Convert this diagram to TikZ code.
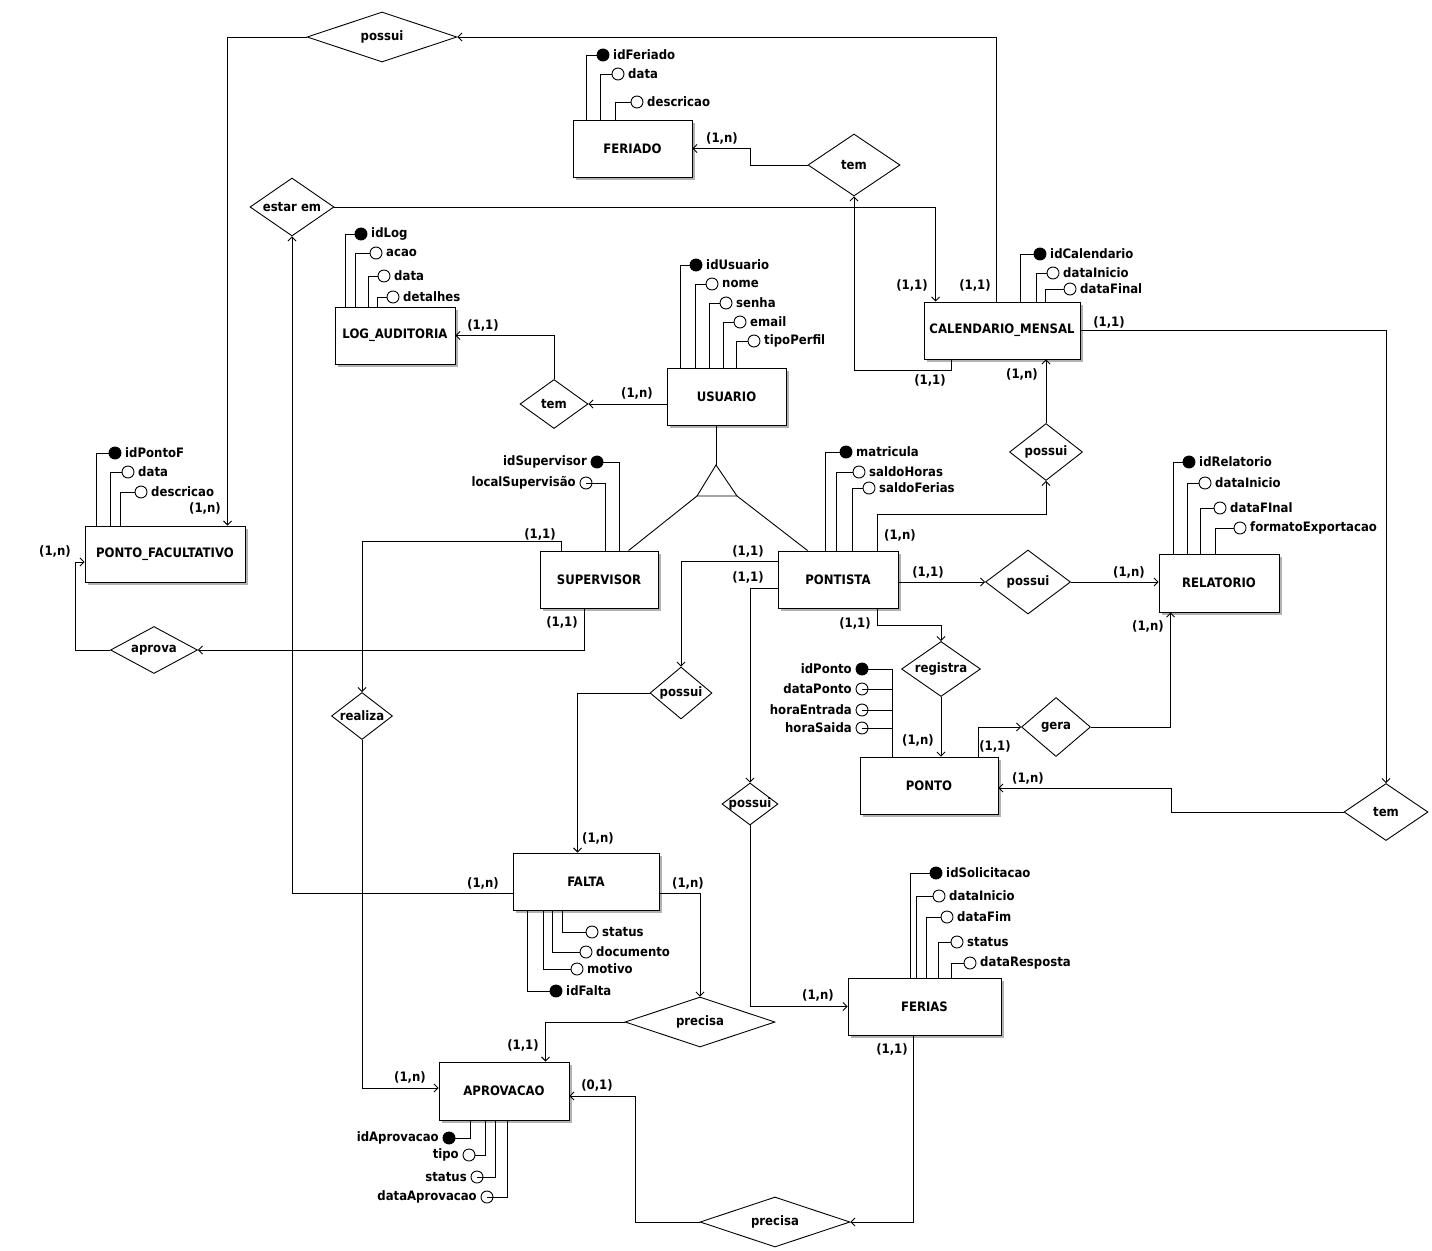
\documentclass[tikz,border=0pt]{standalone}
\usepackage{fontspec}
\setmainfont{DejaVu Sans}[FakeStretch=0.9]
\usetikzlibrary{arrows.meta,shapes.geometric,shadows}

\begin{document}
\begin{tikzpicture}[x=1pt,y=-1pt,line width=0.9pt,
  font=\fontsize{13}{15}\selectfont\bfseries,
  ent/.style={draw,fill=white,inner sep=0,drop shadow={shadow xshift=2.5pt,shadow yshift=-2.5pt,opacity=0.6}},
  rel/.style={draw,fill=white,diamond,inner sep=0},
  atr/.style={draw,circle,minimum size=12,inner sep=0},
  pk/.style={atr,fill=black},
  arr/.style={-{Straight Barb[length=4pt,width=8pt]}},
  card/.style={inner sep=0}]
\fill[white] (0,0) rectangle (1432,1250);
\useasboundingbox (0,0) rectangle (1432,1250);

\node[ent,minimum width=119,minimum height=57] (feriado) at (632.5,148.5) {FERIADO};
\node[ent,minimum width=120,minimum height=57] (logaud) at (395,335.5) {LOG\_AUDITORIA};
\node[ent,minimum width=119,minimum height=57] (usuario) at (726.5,396.5) {USUARIO};
\node[ent,minimum width=156,minimum height=57] (calend) at (1002,330.5) {CALENDARIO\_MENSAL};
\node[ent,minimum width=160,minimum height=56] (pfac) at (165,554) {PONTO\_FACULTATIVO};
\node[ent,minimum width=118,minimum height=57] (superv) at (599,579.5) {SUPERVISOR};
\node[ent,minimum width=120,minimum height=57] (pontista) at (838,579.5) {PONTISTA};
\node[ent,minimum width=120,minimum height=58] (relat) at (1219,583) {RELATORIO};
\node[ent,minimum width=138,minimum height=57] (ponto) at (929,785.5) {PONTO};
\node[ent,minimum width=146,minimum height=57] (falta) at (586,881.5) {FALTA};
\node[ent,minimum width=153,minimum height=57] (ferias) at (924.5,1006.5) {FERIAS};
\node[ent,minimum width=130,minimum height=58] (aprov) at (504,1091) {APROVACAO};

\node[rel,minimum width=150,minimum height=50,aspect=3] (possuiTop) at (382,37) {possui};
\node[rel,minimum width=92,minimum height=62,aspect=1.5] (temFer) at (854,165) {tem};
\node[rel,minimum width=84,minimum height=58,aspect=1.45] (estarEm) at (292,207) {estar em};
\node[rel,minimum width=68,minimum height=49,aspect=1.4] (temLog) at (554,404) {tem};
\node[rel,minimum width=73,minimum height=57,aspect=1.3] (possuiCal) at (1046,452) {possui};
\node[rel,minimum width=85,minimum height=64,aspect=1.3] (possuiRel) at (1028,582) {possui};
\node[rel,minimum width=87,minimum height=47,aspect=1.85] (aprova) at (154,650) {aprova};
\node[rel,minimum width=62,minimum height=52,aspect=1.2] (possuiFal) at (681,693) {possui};
\node[rel,minimum width=61,minimum height=47,aspect=1.3] (realiza) at (362,716) {realiza};
\node[rel,minimum width=79,minimum height=55,aspect=1.44] (registra) at (941,669) {registra};
\node[rel,minimum width=69,minimum height=59,aspect=1.17] (gera) at (1056,727) {gera};
\node[rel,minimum width=56,minimum height=42,aspect=1.33,inner sep=-2pt] (possuiFer) at (750,804) {possui};
\node[rel,minimum width=84,minimum height=57,aspect=1.47] (temPon) at (1386,812) {tem};
\node[rel,minimum width=150,minimum height=50,aspect=3] (precisaFal) at (700,1022) {precisa};
\node[rel,minimum width=150,minimum height=50,aspect=3] (precisaFer) at (775,1222) {precisa};

\coordinate (triTop) at (716,465);
\coordinate (triL) at (697,496);
\coordinate (triR) at (737,496);
\draw (triTop) -- (triL) -- (triR) -- cycle;

\node[pk,label={right:idFeriado}] (kFer) at (603,55) {};
\node[atr,label={right:data}] (aDatFer) at (618,74) {};
\node[atr,label={right:descricao}] (aDesFer) at (637,102) {};
\draw (kFer.west) -| ([xshift=14pt]feriado.north west);
\draw (aDatFer.west) -| ([xshift=28pt]feriado.north west);
\draw (aDesFer.west) -| ([xshift=43pt]feriado.north west);

\node[pk,label={right:idLog}] (kLog) at (361,234) {};
\node[atr,label={right:acao}] (aAcaLog) at (376,253) {};
\node[atr,label={right:data}] (aDatLog) at (384,276) {};
\node[atr,label={right:detalhes}] (aDetLog) at (393,297) {};
\draw (kLog.west) -| ([xshift=11pt]logaud.north west);
\draw (aAcaLog.west) -| ([xshift=21pt]logaud.north west);
\draw (aDatLog.west) -| ([xshift=34pt]logaud.north west);
\draw (aDetLog.west) -| ([xshift=43pt]logaud.north west);

\node[pk,label={right:idUsuario}] (kUsu) at (696,265) {};
\node[atr,label={right:nome}] (aNomUsu) at (712,284) {};
\node[atr,label={right:senha}] (aSenUsu) at (726,303) {};
\node[atr,label={right:email}] (aEmaUsu) at (740,322) {};
\node[atr,label={right:tipoPerfil}] (aTipUsu) at (754,341) {};
\draw (kUsu.west) -| ([xshift=14pt]usuario.north west);
\draw (aNomUsu.west) -| ([xshift=29pt]usuario.north west);
\draw (aSenUsu.west) -| ([xshift=43pt]usuario.north west);
\draw (aEmaUsu.west) -| ([xshift=57pt]usuario.north west);
\draw (aTipUsu.west) -| ([xshift=70pt]usuario.north west);

\node[pk,label={right:idCalendario}] (kCal) at (1040,254) {};
\node[atr,label={right:dataInicio}] (aIniCal) at (1053,273) {};
\node[atr,label={right:dataFinal}] (aFinCal) at (1070,289) {};
\draw (kCal.west) -| ([xshift=97pt]calend.north west);
\draw (aIniCal.west) -| ([xshift=113pt]calend.north west);
\draw (aFinCal.west) -| ([xshift=122pt]calend.north west);

\node[pk,label={right:idPontoF}] (kPfa) at (115,453) {};
\node[atr,label={right:data}] (aDatPfa) at (128,472) {};
\node[atr,label={right:descricao}] (aDesPfa) at (141,492) {};
\draw (kPfa.west) -| ([xshift=12pt]pfac.north west);
\draw (aDatPfa.west) -| ([xshift=26pt]pfac.north west);
\draw (aDesPfa.west) -| ([xshift=36pt]pfac.north west);

\node[pk,label={left:idSupervisor}] (kSup) at (597,462) {};
\node[atr,label={left:localSupervisão}] (aLocSup) at (586,483) {};
\draw (kSup.east) -| ([xshift=80pt]superv.north west);
\draw (aLocSup.center) -| ([xshift=66pt]superv.north west);

\node[pk,label={right:matricula}] (kPon) at (846,452) {};
\node[atr,label={right:saldoHoras}] (aHorPon) at (859,472) {};
\node[atr,label={right:saldoFerias}] (aFerPon) at (869,488) {};
\draw (kPon.west) -| ([xshift=48pt]pontista.north west);
\draw (aHorPon.west) -| ([xshift=59pt]pontista.north west);
\draw (aFerPon.west) -| ([xshift=75pt]pontista.north west);

\node[pk,label={right:idRelatorio}] (kRel) at (1189,462) {};
\node[atr,label={right:dataInicio}] (aIniRel) at (1205,483) {};
\node[atr,label={right:dataFInal}] (aFinRel) at (1220,508) {};
\node[atr,label={right:formatoExportacao}] (aForRel) at (1240,528) {};
\draw (kRel.west) -| ([xshift=15pt]relat.north west);
\draw (aIniRel.west) -| ([xshift=29pt]relat.north west);
\draw (aFinRel.west) -| ([xshift=42pt]relat.north west);
\draw (aForRel.west) -| ([xshift=57pt]relat.north west);

\node[pk,label={left:idPonto}] (kPto) at (862,669) {};
\node[atr,label={left:dataPonto}] (aDatPto) at (862,689) {};
\node[atr,label={left:horaEntrada}] (aEntPto) at (862,710) {};
\node[atr,label={left:horaSaida}] (aSaiPto) at (862,728) {};
\draw (kPto.east) -| ([xshift=33pt]ponto.north west);
\draw (aDatPto.center) -| ([xshift=33pt]ponto.north west);
\draw (aEntPto.center) -| ([xshift=33pt]ponto.north west);
\draw (aSaiPto.center) -| ([xshift=33pt]ponto.north west);

\node[atr,label={right:status}] (aStaFal) at (592,932) {};
\node[atr,label={right:documento}] (aDocFal) at (586,952) {};
\node[atr,label={right:motivo}] (aMotFal) at (577,969) {};
\node[pk,label={right:idFalta}] (kFal) at (556,991) {};
\draw (aStaFal.west) -| ([xshift=50pt]falta.south west);
\draw (aDocFal.west) -| ([xshift=40pt]falta.south west);
\draw (aMotFal.west) -| ([xshift=31pt]falta.south west);
\draw (kFal.west) -| ([xshift=15pt]falta.south west);

\node[pk,label={right:idSolicitacao}] (kFer2) at (936,873) {};
\node[atr,label={right:dataInicio}] (aIniFer) at (939,896) {};
\node[atr,label={right:dataFim}] (aFimFer) at (947,917) {};
\node[atr,label={right:status}] (aStaFer) at (957,942) {};
\node[atr,label={right:dataResposta}] (aResFer) at (970,963) {};
\draw (kFer2.west) -| ([xshift=63pt]ferias.north west);
\draw (aIniFer.west) -| ([xshift=69pt]ferias.north west);
\draw (aFimFer.west) -| ([xshift=79pt]ferias.north west);
\draw (aStaFer.west) -| ([xshift=91pt]ferias.north west);
\draw (aResFer.west) -| ([xshift=104pt]ferias.north west);

\node[pk,label={left:idAprovacao}] (kApr) at (449,1138) {};
\node[atr,label={left:tipo}] (aTipApr) at (469,1155) {};
\node[atr,label={left:status}] (aStaApr) at (477,1177) {};
\node[atr,label={left:dataAprovacao}] (aDatApr) at (487,1197) {};
\draw (kApr.east) -| ([xshift=32pt]aprov.south west);
\draw (aTipApr.east) -| ([xshift=47pt]aprov.south west);
\draw (aStaApr.center) -| ([xshift=57pt]aprov.south west);
\draw (aDatApr.center) -| ([xshift=69pt]aprov.south west);

\draw[arr] ([xshift=73pt]calend.north west) |- (possuiTop.east);
\draw[arr] (possuiTop.west) -| ([xshift=143pt]pfac.north west);
\draw[arr] (temFer.west) -- (750,165) |- (feriado.east);
\draw[arr] ([xshift=28pt]calend.south west) -- ++(0,11) -| (temFer.south);
\draw[arr] (estarEm.east) -| ([xshift=12pt]calend.north west);
\draw[arr] ([yshift=-11.5pt]falta.west) -| (estarEm.south);
\draw[arr] (temLog.north) |- (logaud.east);
\draw[arr] (temLog.east -| usuario.west) -- (temLog.east);
\draw (usuario.south -| triTop) -- (triTop);
\draw (triL) -- ([xshift=89pt]superv.north west);
\draw (triR) -- ([xshift=30pt]pontista.north west);
\draw[arr] ([xshift=22pt]superv.north west) -- ++(0,-9) -| (realiza.north);
\draw[arr] (realiza.south) |- ([yshift=3pt]aprov.west);
\draw[arr] ([xshift=45pt]superv.south west) |- (aprova.east);
\draw[arr] (aprova.west) -- (75,650) |- ([yshift=-8pt]pfac.west);
\draw[arr] ([xshift=100pt]pontista.north west) -- ++(0,-36) -| (possuiCal.south);
\draw[arr] (possuiCal.north) -- (possuiCal.north |- calend.south);
\draw[arr] (calend.east) -| (temPon.north);
\draw[arr] (temPon.west) -- (1171,812) |- ([yshift=-2.5pt]ponto.east);
\draw[arr] (possuiRel.west -| pontista.east) -- (possuiRel.west);
\draw[arr] (possuiRel.east) -- (possuiRel.east -| relat.west);
\draw[arr] ([xshift=100pt]pontista.south west) -- ++(0,17) -| (registra.north);
\draw[arr] (registra.south) -- (registra.south |- ponto.north);
\draw[arr] ([xshift=119pt]ponto.north west) |- (gera.west);
\draw[arr] (gera.east) -| ([xshift=12pt]relat.south west);
\draw[arr] ([yshift=18.5pt]pontista.west) -| (possuiFal.north);
\draw[arr] ([yshift=-8.5pt]pontista.west) -| (possuiFer.north);
\draw[arr] (possuiFal.west) -| ([xshift=65pt]falta.north west);
\draw[arr] (possuiFer.south) |- (ferias.west);
\draw[arr] ([yshift=-11.5pt]falta.east) -| (precisaFal.north);
\draw[arr] (precisaFal.west) -| ([xshift=107pt]aprov.north west);
\draw[arr] ([xshift=66pt]ferias.south west) |- (precisaFer.east);
\draw[arr] (precisaFer.west) -- (635,1222) |- ([yshift=-5pt]aprov.east);

\node[card] (c1) at (722,138) {(1,n)};
\node[card] (c2) at (912,285) {(1,1)};
\node[card] (c3) at (975,285) {(1,1)};
\node[card] (c4) at (930,380) {(1,1)};
\node[card] (c5) at (1022,374) {(1,n)};
\node[card] (c6) at (1109,322) {(1,1)};
\node[card] (c7) at (483,325) {(1,1)};
\node[card] (c8) at (637,393) {(1,n)};
\node[card] (c9) at (205,508) {(1,n)};
\node[card] (c10) at (55,551) {(1,n)};
\node[card] (c11) at (540,534) {(1,1)};
\node[card] (c12) at (562,622) {(1,1)};
\node[card] (c13) at (748,551) {(1,1)};
\node[card] (c14) at (748,577) {(1,1)};
\node[card] (c15) at (900,535) {(1,n)};
\node[card] (c16) at (928,572) {(1,1)};
\node[card] (c17) at (1129,572) {(1,n)};
\node[card] (c18) at (855,623) {(1,1)};
\node[card] (c19) at (1148,626) {(1,n)};
\node[card] (c20) at (918,740) {(1,n)};
\node[card] (c21) at (995,746) {(1,1)};
\node[card] (c22) at (1028,778) {(1,n)};
\node[card] (c23) at (598,838) {(1,n)};
\node[card] (c24) at (483,883) {(1,n)};
\node[card] (c25) at (688,883) {(1,n)};
\node[card] (c26) at (818,995) {(1,n)};
\node[card] (c27) at (892,1049) {(1,1)};
\node[card] (c28) at (523,1045) {(1,1)};
\node[card] (c29) at (410,1077) {(1,n)};
\node[card] (c30) at (597,1085) {(0,1)};
\end{tikzpicture}
\end{document}
